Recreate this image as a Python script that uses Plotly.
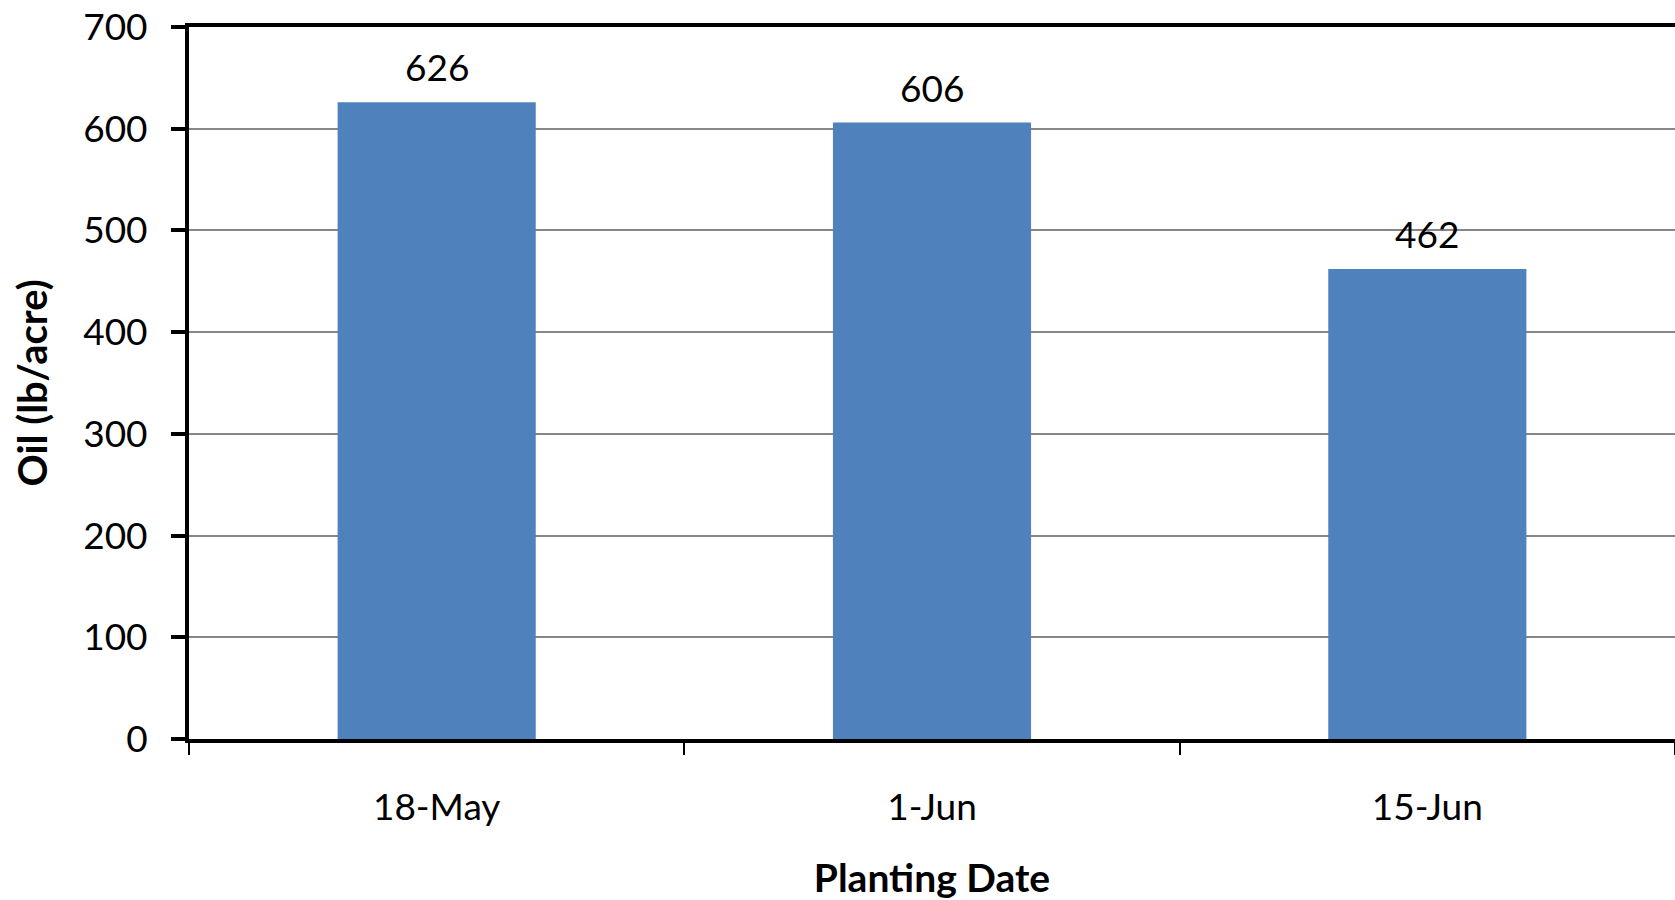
import plotly.graph_objects as go

categories = ["18-May", "1-Jun", "15-Jun"]
oil_values = [626, 606, 462]
y_ticks = [0, 100, 200, 300, 400, 500, 600, 700]

FONT = "Lato"
BAR_COLOR = "#4F81BD"

fig = go.Figure()
fig.add_trace(go.Bar(
    x=categories, y=oil_values, width=0.4,
    marker=dict(color=BAR_COLOR, line=dict(width=0)),
    hoverinfo="skip",
))

for c, v in zip(categories, oil_values):
    fig.add_annotation(x=c, y=v, text=str(v), showarrow=False,
                       yanchor="bottom", yshift=11,
                       font=dict(family=FONT, size=37, color="black"))

fig.update_layout(
    width=1675, height=900,
    margin=dict(l=189, r=0, t=27, b=161),
    paper_bgcolor="white", plot_bgcolor="white",
    showlegend=False,
    font=dict(family=FONT, color="black"),
    xaxis=dict(
        type="category",
        showline=True, linecolor="black", linewidth=4, mirror=True,
        ticks="outside", tickson="boundaries", ticklen=12, tickwidth=2, tickcolor="black",
        tickfont=dict(family=FONT, size=37, color="black"),
        ticklabelstandoff=33,
        showgrid=False,
        title=dict(text="<b>Planting Date</b>", font=dict(family=FONT, size=39, color="black"), standoff=38),
    ),
    yaxis=dict(
        range=[0, 700], tickvals=y_ticks, ticktext=[str(t) for t in y_ticks],
        showline=True, linecolor="black", linewidth=4,
        ticks="outside", ticklen=14, tickwidth=4, tickcolor="black",
        tickfont=dict(family=FONT, size=37, color="black"),
        ticklabelstandoff=16,
        showgrid=True, gridcolor="#868686", gridwidth=2,
        zeroline=False,
        title=dict(text="<b>Oil (lb/acre)</b>", font=dict(family=FONT, size=40, color="black"), standoff=24),
    ),
)

fig.write_html("out.html")
